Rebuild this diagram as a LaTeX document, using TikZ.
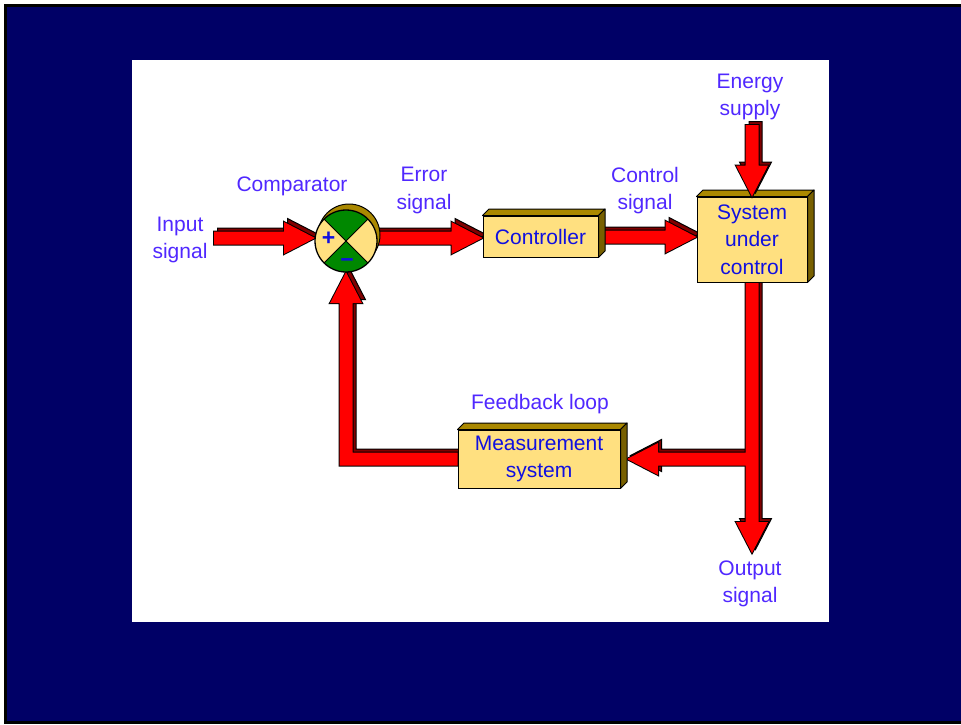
\documentclass[tikz,border=0pt]{standalone}
\usepackage{fontspec}
\setmainfont{Liberation Sans}
\usetikzlibrary{calc}
\definecolor{navy}{RGB}{0,0,102}
\definecolor{arrred}{RGB}{255,0,0}
\definecolor{arrshadow}{RGB}{128,0,0}
\definecolor{boxface}{RGB}{255,224,128}
\definecolor{boxtop}{RGB}{170,136,0}
\definecolor{boxside}{RGB}{120,96,0}
\definecolor{cgreen}{RGB}{0,136,0}
\definecolor{lblcol}{RGB}{80,40,255}
\definecolor{boxtxt}{RGB}{16,16,224}
\pgfdeclarelayer{bg}
\pgfdeclarelayer{back}
\pgfdeclarelayer{front}
\pgfsetlayers{bg,back,main,front}
\def\ahw{6.5pt}
\def\aHW{16pt}
\def\aHL{31pt}
% horizontal block arrow: from #1 to #2, direction sign #3 (1 = right, -1 = left)
\newcommand{\HArr}[3]{let \p1=(#1),\p2=(#2) in
  ({\x1},{\y1+\ahw}) -- ({\x2-(#3)*\aHL},{\y1+\ahw}) -- ({\x2-(#3)*\aHL},{\y1+\aHW}) -- ({\x2},{\y1})
  -- ({\x2-(#3)*\aHL},{\y1-\aHW}) -- ({\x2-(#3)*\aHL},{\y1-\ahw}) -- ({\x1},{\y1-\ahw}) -- cycle}
% vertical block arrow (canvas sign #3: -1 = down)
\newcommand{\VArr}[3]{let \p1=(#1),\p2=(#2) in
  ({\x1+\ahw},{\y1}) -- ({\x1+\ahw},{\y2-(#3)*\aHL}) -- ({\x1+\aHW},{\y2-(#3)*\aHL}) -- ({\x1},{\y2})
  -- ({\x1-\aHW},{\y2-(#3)*\aHL}) -- ({\x1-\ahw},{\y2-(#3)*\aHL}) -- ({\x1-\ahw},{\y1}) -- cycle}
% feedback L-shaped arrow: from meas.west left, then up to comp.south
\newcommand{\FBArr}{let \p1=(meas.west),\p2=(comp.south) in
  ({\x1},{\y1+\ahw}) -- ({\x2+\ahw},{\y1+\ahw}) -- ({\x2+\ahw},{\y2-\aHL}) -- ({\x2+\aHW},{\y2-\aHL})
  -- ({\x2},{\y2}) -- ({\x2-\aHW},{\y2-\aHL}) -- ({\x2-\ahw},{\y2-\aHL}) -- ({\x2-\ahw},{\y1-\ahw})
  -- ({\x1},{\y1-\ahw}) -- cycle}
\newcommand{\extrude}[1]{%
  \filldraw[fill=boxtop, draw=black, line width=1pt, line join=round] (#1.north west) -- ++(6.5,-6.5) -- ($(#1.north east)+(6.5,-6.5)$) -- (#1.north east) -- cycle;
  \filldraw[fill=boxside, draw=black, line width=1pt, line join=round] (#1.north east) -- ++(6.5,-6.5) -- ($(#1.south east)+(6.5,-6.5)$) -- (#1.south east) -- cycle;}
\begin{document}
\begin{tikzpicture}[x=1pt,y=-1pt,
  boxnode/.style={rectangle, fill=boxface, draw=black, line width=1pt, inner sep=0pt,
    text=boxtxt, align=center, font=\fontsize{21pt}{27.5pt}\selectfont},
  lbl/.style={text=lblcol, align=center, inner sep=0pt, font=\fontsize{21pt}{27.5pt}\selectfont},
  signnode/.style={text=boxtxt, inner sep=0pt, font=\fontsize{23pt}{23pt}\selectfont\bfseries},
  shadowpath/.style={fill=arrshadow, draw=black, line width=1pt},
  facepath/.style={fill=arrred, draw=black, line width=2pt},
  facefill/.style={fill=arrred}]
\useasboundingbox (0,0) rectangle (961,724);
\begin{pgfonlayer}{bg}
  \fill[white] (0,0) rectangle (961,724);
  \fill[black] (4,4) rectangle (961,724);
  \fill[navy] (7,7) rectangle (961,721);
  \fill[white] (132,60) rectangle (829,622);
\end{pgfonlayer}

% nodes
\node[circle, minimum size=62pt, inner sep=0pt] (comp) at (346,241) {};
\node[boxnode, minimum width=115pt, minimum height=41pt] (ctrl) at (540.5,236.5) {Controller};
\node[boxnode, minimum width=110pt, minimum height=85pt] (sys) at (752,239.5) {System\\under\\control};
\node[boxnode, minimum width=162pt, minimum height=58pt] (meas) at (539,459) {Measurement\\system};
\extrude{ctrl}
\extrude{sys}
\extrude{meas}

\coordinate (instart) at (214,238);
\coordinate (intip) at (315,238);
\coordinate (errstart) at (370,238);
\coordinate (ctlstart) at (590,237);
\coordinate (entop) at (752,125);
\coordinate (outtip) at (752,553);
\coordinate (junc) at (sys.south |- meas.east);

% arrows behind the boxes
\begin{pgfonlayer}{back}
  \begin{scope}[transform canvas={xshift=3.5pt,yshift=3.5pt}]
    \path[shadowpath] \HArr{instart}{intip}{1};
    \path[shadowpath] \HArr{errstart}{ctrl.west |- errstart}{1};
    \path[shadowpath] \HArr{ctlstart}{sys.west |- ctlstart}{1};
    \path[shadowpath] \FBArr;
    \path[shadowpath] \VArr{sys.south}{outtip}{-1};
    \path[shadowpath] \HArr{junc}{$(meas.east)+(6.5,0)$}{-1};
  \end{scope}
  \path[facepath] \HArr{instart}{intip}{1};
  \path[facepath] \HArr{errstart}{ctrl.west |- errstart}{1};
  \path[facepath] \HArr{ctlstart}{sys.west |- ctlstart}{1};
  \path[facepath] \FBArr;
  \path[facepath] \VArr{sys.south}{outtip}{-1};
  \path[facepath] \HArr{junc}{$(meas.east)+(6.5,0)$}{-1};
  \path[facefill] \HArr{instart}{intip}{1};
  \path[facefill] \HArr{errstart}{ctrl.west |- errstart}{1};
  \path[facefill] \HArr{ctlstart}{sys.west |- ctlstart}{1};
  \path[facefill] \FBArr;
  \path[facefill] \VArr{sys.south}{outtip}{-1};
  \path[facefill] \HArr{junc}{$(meas.east)+(6.5,0)$}{-1};
\end{pgfonlayer}

% energy arrow in front of the system box
\begin{pgfonlayer}{front}
  \begin{scope}[transform canvas={xshift=3.5pt,yshift=3.5pt}]
    \path[shadowpath] \VArr{entop}{sys.north}{-1};
  \end{scope}
  \path[facepath] \VArr{entop}{sys.north}{-1};
  \path[facefill] \VArr{entop}{sys.north}{-1};
\end{pgfonlayer}

% comparator
\filldraw[fill=boxtop, draw=black, line width=1pt] ($(comp.center)+(3,-6)$) circle[radius=31pt];
\fill[boxface] (comp.center) circle[radius=31pt];
\fill[cgreen] (comp.center) -- ++(45:31pt) arc[start angle=45, end angle=135, radius=31pt] -- cycle;
\fill[cgreen] (comp.center) -- ++(225:31pt) arc[start angle=225, end angle=315, radius=31pt] -- cycle;
\draw[line width=1pt] ($(comp.center)+(45:31pt)$) -- ($(comp.center)+(225:31pt)$);
\draw[line width=1pt] ($(comp.center)+(135:31pt)$) -- ($(comp.center)+(315:31pt)$);
\draw[line width=1.3pt] (comp.center) circle[radius=31pt];
\node[signnode] (plus) at (328.5,239) {+};
\node[signnode] (minus) at (347,263) {−};

% labels
\node[lbl] (linput) at (180,240) {Input\\signal};
\node[lbl] (lcomp) at (292,186.5) {Comparator};
\node[lbl] (lerr) at (424,190.5) {Error\\signal};
\node[lbl] (lctl) at (645,190.5) {Control\\signal};
\node[lbl] (lenergy) at (750,97) {Energy\\supply};
\node[lbl] (lfb) at (540,404.5) {Feedback loop};
\node[lbl] (lout) at (750,584) {Output\\signal};
\end{tikzpicture}
\end{document}
